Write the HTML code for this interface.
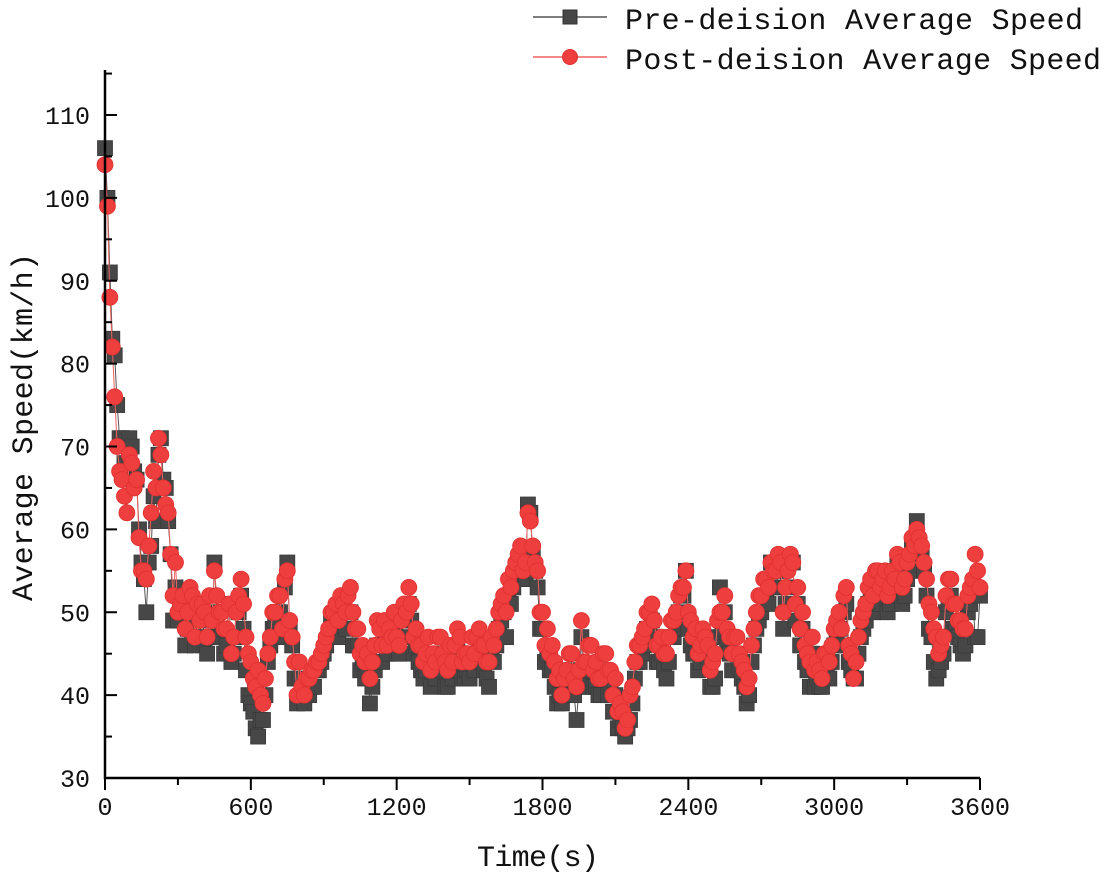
<!DOCTYPE html>
<html><head><meta charset="utf-8"><style>
html,body{margin:0;padding:0;background:#fff;}
svg{display:block;font-family:"Liberation Mono","Noto Serif CJK SC",monospace;}
</style></head><body>
<svg id="chart" width="1105" height="874" viewBox="0 0 1105 874">
<g id="marks"></g>
<g id="axes"></g>
<g>
 <g>
  <line x1="533" y1="17" x2="607" y2="17" stroke="#555" stroke-width="1.5"/>
  <rect x="563" y="10" width="14" height="14" fill="#474747" stroke="#333"/>
  <text x="625" y="29" font-size="30" textLength="458" fill="#111">Pre-deision Average Speed</text>
 </g>
 <g>
  <line x1="533" y1="57" x2="607" y2="57" stroke="#f06060" stroke-width="1.5"/>
  <circle cx="570" cy="57" r="7.5" fill="#ef3e3e" stroke="#e03030"/>
  <text x="625" y="69" font-size="30" textLength="476" fill="#111">Post-deision Average Speed</text>
 </g>
</g>
<text x="538" y="866" font-size="30" text-anchor="middle" textLength="122" fill="#111">Time(s)</text>
<text transform="translate(32,427) rotate(-90)" font-size="30" text-anchor="middle" textLength="348" fill="#111">Average Speed(km/h)</text>
</svg>
<script>
const timeStep = 10;
const preSpeed = [106,100,91,83,81,75,71,71,68,66,71,70,67,66,60,56,54,50,56,58,
64,61,69,71,66,65,61,57,49,53,49,50,50,46,48,51,50,46,49,47,
50,46,45,49,47,56,50,47,48,45,46,51,44,45,47,50,52,48,43,40,
39,38,36,35,37,37,40,44,46,48,49,50,50,47,53,56,48,46,42,39,
42,40,39,40,40,41,41,43,43,44,45,46,47,49,49,50,47,51,50,48,
50,50,46,46,46,43,44,42,43,39,41,43,46,46,44,47,45,47,46,48,
45,45,47,49,49,51,49,45,46,44,43,42,43,45,41,43,42,45,44,43,
41,41,44,42,43,46,45,42,42,43,42,45,43,45,46,44,43,42,41,45,
44,46,48,49,50,47,52,51,53,55,55,57,54,54,63,62,57,55,53,48,
48,44,45,43,43,41,39,40,39,40,41,43,43,40,37,41,47,41,42,43,
43,41,41,40,40,43,43,40,41,38,40,36,37,36,35,36,37,39,42,44,
44,45,46,48,48,49,47,44,44,45,43,42,44,47,47,48,50,52,52,55,
48,46,45,45,43,44,46,45,44,41,41,42,47,53,48,50,46,45,43,45,
45,43,42,41,39,40,44,46,48,49,50,52,52,51,56,53,53,55,55,48,
51,53,56,56,49,51,46,48,44,43,41,45,41,42,41,41,43,43,42,44,
46,47,48,46,50,51,44,43,42,42,45,47,48,49,51,52,50,53,53,51,
52,53,50,51,53,52,56,54,51,52,54,55,58,57,61,58,57,55,52,48,
47,44,42,43,44,45,50,51,52,48,48,47,46,45,46,50,51,52,47,47,52];
const postSpeed = [104,99,88,82,76,70,67,66,64,62,69,68,65,66,59,55,55,54,58,62,
67,65,71,69,65,63,62,57,52,56,50,51,52,48,50,53,52,47,51,49,
51,50,47,52,49,55,52,50,50,48,48,51,45,47,50,52,54,51,47,45,
44,42,41,43,40,39,42,45,47,50,50,52,52,48,54,55,49,47,44,40,
44,41,40,42,42,43,43,44,44,45,46,47,48,50,50,51,49,52,51,50,
52,53,50,48,48,45,46,44,45,42,44,46,49,48,46,49,46,48,47,50,
47,46,49,51,50,53,51,47,48,46,46,44,45,47,43,45,44,47,47,45,
44,43,46,44,46,48,47,44,45,45,44,47,45,47,48,46,46,44,44,47,
46,48,50,51,52,50,54,53,55,56,57,58,55,56,62,61,58,56,55,50,
50,46,48,45,46,44,42,43,40,42,43,45,45,42,41,43,49,44,44,46,
46,43,44,42,42,45,45,43,43,40,42,38,39,38,36,37,40,41,44,46,
46,47,48,50,50,51,49,46,46,47,45,45,47,49,49,50,52,53,53,55,
50,49,47,48,45,46,48,47,46,43,44,45,49,50,50,52,48,47,45,47,
47,45,44,43,41,42,46,48,50,52,52,54,54,53,56,55,55,57,56,50,
53,55,57,56,51,53,48,50,46,45,44,47,43,44,43,42,45,45,44,46,
48,49,50,48,52,53,46,45,42,44,47,49,50,51,53,54,52,55,55,53,
54,55,52,53,55,54,57,56,53,54,56,57,59,58,60,59,58,56,54,51,
50,48,47,45,46,47,52,54,54,51,51,49,49,48,48,52,53,54,57,55,53];
const xTicks = [0,600,1200,1800,2400,3000,3600];
const yTicks = [30,40,50,60,70,80,90,100,110];

const NS = "http://www.w3.org/2000/svg";
const X0 = 105, X1 = 980, Y0 = 778, Y1 = 115;
function xs(t){ return X0 + (t/3600)*(X1-X0); }
function ys(v){ return Y0 - (v-30)/80*(Y0-Y1); }
function mk(tag, attrs, parent){ const e = document.createElementNS(NS, tag); for (const k in attrs) e.setAttribute(k, attrs[k]); parent.appendChild(e); return e; }
const marks = document.getElementById('marks');
const axes = document.getElementById('axes');

function series(data, color, lineColor, shape, name){
  const g = mk('g', {}, marks);
  
  
  const pts = data.map((v,i)=> xs(i*timeStep).toFixed(1)+','+ys(v).toFixed(1)).join(' ');
  const pl = mk('polyline', {points: pts, fill:'none', stroke: lineColor, 'stroke-width': 1}, g);
  
  
  data.forEach((v,i)=>{
    const cx = xs(i*timeStep), cy = ys(v);
    let m;
    if (shape === 'square') m = mk('rect', {x: cx-7.5, y: cy-7.5, width: 15, height: 15, fill: color, stroke:'#3a3a3a', 'stroke-width':0.8}, g);
    else m = mk('circle', {cx: cx, cy: cy, r: 8, fill: color, stroke:'#e03030', 'stroke-width':0.8}, g);
    
    
  });
}
series(preSpeed, '#474747', '#555', 'square', 'pre-decision-series');
series(postSpeed, '#ef3e3e', '#f06060', 'circle', 'post-decision-series');

const ax = mk('path', {d:`M${X0},${Y1-45} L${X0},${Y0} L${X1},${Y0}`, fill:'none', stroke:'#000', 'stroke-width':2.5}, axes);


for (let t=0; t<=3600; t+=300){
  const major = t%600===0;
  const tk = mk('line', {x1: xs(t), y1: Y0, x2: xs(t), y2: Y0 + (major?12:7), stroke:'#000','stroke-width':2}, axes);
  
  
}
xTicks.forEach(t=>{
  const tx = mk('text', {x: xs(t), y: 815, 'font-size':25, 'text-anchor':'middle', fill:'#111'}, axes);
  tx.textContent = t;
  
  
});
for (let v=30; v<=115; v+=5){
  const major = v%10===0;
  const tk = mk('line', {x1: X0, y1: ys(v), x2: X0 + (major?12:7), y2: ys(v), stroke:'#000','stroke-width':2}, axes);
  
  
}
yTicks.forEach(v=>{
  const tx = mk('text', {x: 90, y: ys(v)+9, 'font-size':25, 'text-anchor':'end', fill:'#111'}, axes);
  tx.textContent = v;
  
  
});
</script>
</body></html>
